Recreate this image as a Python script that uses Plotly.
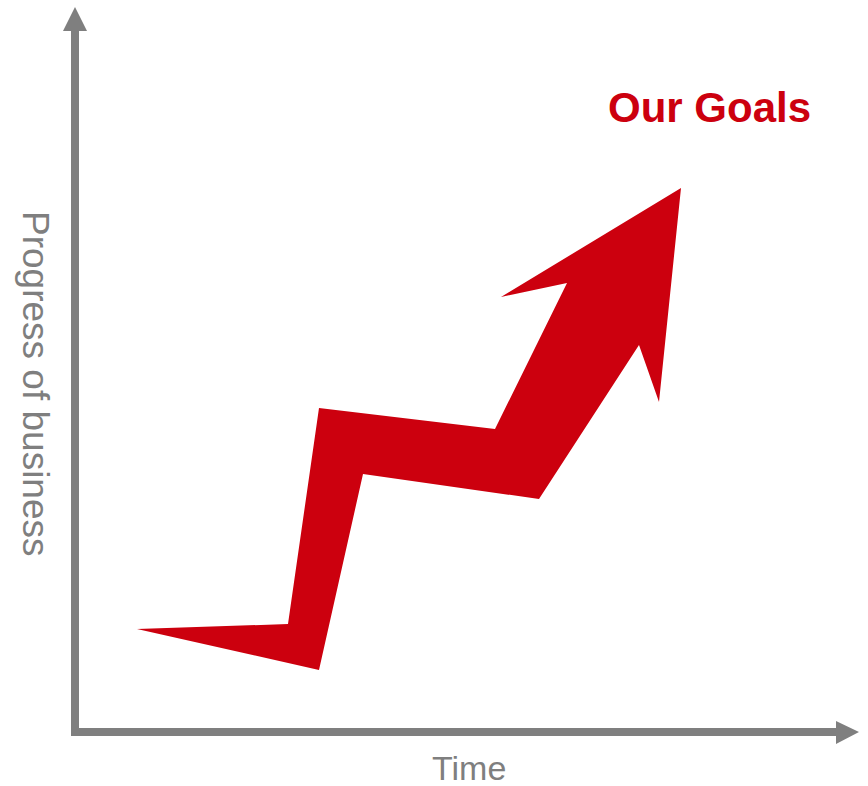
import plotly.graph_objects as go

W, H = 868, 786

# Zig-zag growth arrow outline (canvas units, y grows downward)
arrow_x = [137, 288, 319, 495, 567, 501, 681, 659, 639, 539, 363, 319, 137]
arrow_y = [629, 624, 408, 429, 283, 297, 188, 402, 345, 499, 474, 670, 629]

# Axis shafts and heads
y_axis_x = [71, 79, 79, 87, 75, 63, 71, 71]
y_axis_y = [732, 732, 31, 31, 7, 31, 31, 732]
x_axis_x = [71, 836, 836, 859, 836, 836, 71, 71]
x_axis_y = [728, 728, 721, 732, 744, 736, 736, 728]

title_text = "Our Goals"
x_label = "Time"
y_label = "Progress of business"

RED = "#CC000E"
GRAY = "#7F7F7F"

fig = go.Figure()
for xs, ys in [(y_axis_x, y_axis_y), (x_axis_x, x_axis_y)]:
    fig.add_trace(go.Scatter(x=xs, y=ys, mode="lines", fill="toself",
                             fillcolor=GRAY, line=dict(width=0, color=GRAY),
                             hoverinfo="skip", showlegend=False))
fig.add_trace(go.Scatter(x=arrow_x, y=arrow_y, mode="lines", fill="toself",
                         fillcolor=RED, line=dict(width=0, color=RED),
                         hoverinfo="skip", showlegend=False))

font_family = "Liberation Sans, Arial, sans-serif"
fig.add_annotation(x=606, y=107, text=f"<b>{title_text}</b>", showarrow=False,
                   xanchor="left", yanchor="middle",
                   font=dict(family=font_family, size=42, color=RED))
fig.add_annotation(x=469, y=768, text=x_label, showarrow=False,
                   xanchor="center", yanchor="middle",
                   font=dict(family=font_family, size=34, color=GRAY))
fig.add_annotation(x=36, y=384, text=y_label, showarrow=False, textangle=90,
                   xanchor="center", yanchor="middle",
                   font=dict(family=font_family, size=37, color=GRAY))

fig.update_xaxes(range=[0, W], visible=False, fixedrange=True)
fig.update_yaxes(range=[H, 0], visible=False, fixedrange=True)
fig.update_layout(width=W, height=H, margin=dict(l=0, r=0, t=0, b=0),
                  paper_bgcolor="white", plot_bgcolor="white")

fig.write_html("out.html")
